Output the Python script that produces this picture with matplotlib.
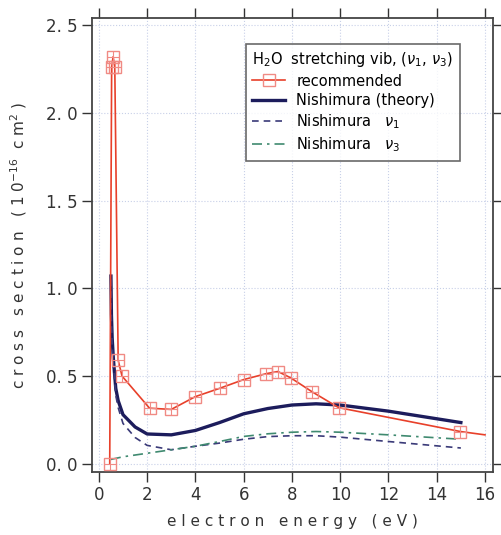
import numpy as np
import matplotlib.pyplot as plt

# recommended cross section (markers + line, last point line only)
rec_x = [0.45, 0.53, 0.59, 0.66, 0.8, 0.96, 2.1, 3.0, 4.0, 5.0, 6.0, 6.94, 7.42, 7.95, 8.84, 9.94, 14.98, 16.0]
rec_y = [0.0, 2.26, 2.32, 2.26, 0.59, 0.50, 0.317, 0.31, 0.383, 0.43, 0.48, 0.514, 0.526, 0.49, 0.41, 0.32, 0.184, 0.165]

# Nishimura theory (total)
th_x = [0.5, 0.52, 0.55, 0.6, 0.7, 0.8, 1.0, 1.5, 2.0, 3.0, 4.0, 5.0, 6.0, 7.0, 8.0, 9.0, 10.0, 12.0, 15.0]
th_y = [1.07, 0.85, 0.72, 0.6, 0.43, 0.36, 0.28, 0.21, 0.17, 0.165, 0.19, 0.235, 0.285, 0.315, 0.335, 0.342, 0.335, 0.30, 0.235]

# Nishimura v1
v1_x = [0.5, 0.52, 0.55, 0.6, 0.7, 0.8, 1.0, 1.5, 2.0, 3.0, 4.0, 5.0, 6.0, 7.0, 8.0, 9.0, 10.0, 12.0, 15.0]
v1_y = [1.05, 0.83, 0.69, 0.57, 0.39, 0.32, 0.23, 0.15, 0.105, 0.08, 0.10, 0.118, 0.14, 0.155, 0.16, 0.16, 0.152, 0.127, 0.09]

# Nishimura v3
v3_x = [0.5, 1.0, 2.0, 3.0, 4.0, 5.0, 6.0, 7.0, 8.0, 9.0, 10.0, 12.0, 15.0]
v3_y = [0.025, 0.04, 0.06, 0.08, 0.10, 0.127, 0.156, 0.171, 0.18, 0.184, 0.18, 0.165, 0.14]

red = '#e8402a'
mk = '#f08a84'
navy = '#1c1c5c'

fig = plt.figure(figsize=(5.02, 5.35), dpi=100)
ax = fig.add_axes([0.183, 0.118, 0.799, 0.848])

ax.plot(rec_x, rec_y, color=red, lw=1.2, zorder=3)
ax.plot(rec_x[:-1], rec_y[:-1], ls='none', marker='s', ms=9, mfc='none', mec=mk, mew=1.0, zorder=4)
ax.plot(rec_x[:-1], rec_y[:-1], ls='none', marker='+', ms=9, mec=mk, mew=0.8, zorder=4)
ax.plot(th_x, th_y, color=navy, lw=2.4, zorder=2)
ax.plot(v1_x, v1_y, color='#3a3a78', lw=1.2, ls=(0, (4, 3)), zorder=2)
ax.plot(v3_x, v3_y, color='#3f8a70', lw=1.2, ls=(0, (6, 3, 1.5, 3)), zorder=2)

# legend handles
h_rec, = ax.plot([], [], color=red, lw=1.2, marker='s', ms=9, mfc='none', mec=mk)
h_th, = ax.plot([], [], color=navy, lw=2.4)
h_v1, = ax.plot([], [], color='#3a3a78', lw=1.2, ls=(0, (4, 3)))
h_v3, = ax.plot([], [], color='#3f8a70', lw=1.2, ls=(0, (6, 3, 1.5, 3)))
leg = ax.legend([h_rec, h_th, h_v1, h_v3],
                ['recommended', 'Nishimura (theory)', r'Nishimura   $\nu_1$', r'Nishimura   $\nu_3$'],
                title=r'H$_2$O  stretching vib, ($\nu_1$, $\nu_3$)',
                loc='upper right', bbox_to_anchor=(0.935, 0.96), fontsize=10.5, title_fontsize=10.5,
                frameon=True, fancybox=False, edgecolor='#444444', handlelength=2.2,
                borderpad=0.45, labelspacing=0.3)
leg.get_frame().set_linewidth(1.2)
leg._legend_box.align = 'left'

ax.set_xlim(-0.29, 16.33)
ax.set_ylim(-0.046, 2.54)
ax.set_xticks(np.arange(0, 17, 2))
ax.set_yticks([0.0, 0.5, 1.0, 1.5, 2.0, 2.5])
ax.set_yticklabels(['0. 0', '0. 5', '1. 0', '1. 5', '2. 0', '2. 5'])
ax.tick_params(direction='out', length=7, width=1, labelsize=12, colors='#333333',
               top=True, right=True, labeltop=False, labelright=False)
ax.grid(True, color='#c8d0e8', ls=':', lw=0.8)
for s in ax.spines.values():
    s.set_linewidth(1.3)
    s.set_color('#444444')

ax.set_xlabel('e l e c t r o n   e n e r g y   ( e V )', fontsize=11, color='#333333', labelpad=7)
ax.set_ylabel(r'c r o s s   s e c t i o n   ( 1 0$^{-16}$  c m$^2$ )', fontsize=11, color='#333333', labelpad=12)

fig.savefig('out.png', dpi=100)
